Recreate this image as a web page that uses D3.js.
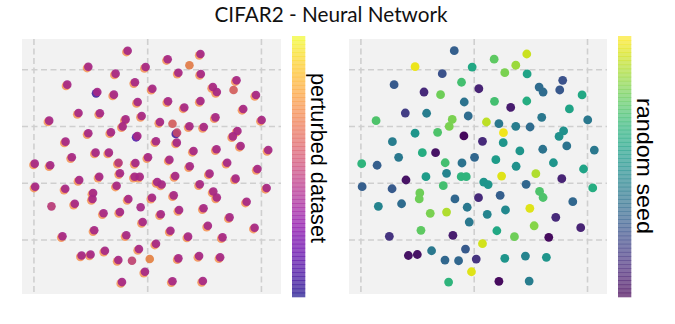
<!DOCTYPE html>
<html><head><meta charset="utf-8">
<script src="https://cdn.jsdelivr.net/npm/d3@7"></script>
<style>body{margin:0;background:#fff;}</style>
</head><body>
<svg id="chart" width="675" height="324"></svg>
<script>
// embedding coordinates (same embedding in both panels)
const ptX = [-17.6,17.6,-52.2,-1.8,-28.2,27.0,-70.7,-11.2,-44.3,4.1,
-29.7,17.9,-8.8,32.2,-60.8,-42.0,-86.6,-5.3,-19.4,-22.0,
10.8,21.8,25.8,-52.2,-32.3,-9.1,-72.2,7.3,25.6,-66.7,
-45.8,-34.1,-99.3,-85.7,-25.6,-10.8,0.3,19.1,46.4,36.7,
46.7,78.1,57.3,60.8,75.5,95.2,46.4,84.0,59.6,100.2,
36.7,49.3,78.9,74.9,81.7,40.3,60.5,106.0,37.0,69.9,
96.5,-60.2,-42.6,-24.4,-11.5,-7.0,24.2,-98.9,-72.5,-27.3,
8.4,12.3,-48.0,-48.5,-17.0,3.8,22.9,-84.6,-64.1,-6.2,
11.5,27.6,-38.8,-24.4,-4.4,-47.0,20.0,-74.9,-18.8,7.3,
-58.1,-50.2,-37.6,-7.7,-25.8,-13.8,1.8,27.0,-2.4,-22.6,
21.8,54.4,77.3,45.8,104.6,57.7,60.8,87.0,49.1,72.0,
35.5,52.9,94.0,65.8,45.2,63.7,48.5];
const ptY = [116.8,109.3,102.7,102.4,96.6,97.4,86.9,89.0,80.4,83.3,
78.1,72.2,71.6,66.8,61.9,61.7,55.2,59.3,56.3,50.1,
54.0,52.5,44.6,44.1,44.9,41.7,36.7,37.0,35.8,22.9,
27.0,27.0,17.3,15.9,18.1,17.9,22.9,20.8,113.9,104.0,
96.3,90.7,84.8,80.4,82.2,77.8,72.5,65.5,58.1,55.8,
50.2,49.6,46.1,41.3,32.9,28.5,30.0,29.3,15.0,18.1,
12.6,2.9,5.8,8.8,5.8,5.8,6.4,-3.0,-4.8,-2.1,
1.1,-1.1,-8.5,-13.8,-13.8,-12.7,-10.6,-20.3,-18.0,-21.1,
-27.3,-23.5,-26.4,-25.3,-34.1,-41.4,-41.8,-46.7,-45.8,-53.2,
-63.6,-62.7,-59.4,-57.9,-67.6,-68.2,-66.7,-66.1,-77.9,-87.0,
-86.3,8.5,4.1,-0.9,-4.1,-7.2,-12.5,-16.2,-22.0,-30.0,
-47.0,-37.4,-39.1,-47.6,-64.1,-65.2,-86.1];
// random seed (normalised 0..1)
const seedVal = [.30,.75,.97,.60,.25,.80,.28,.70,.12,.10,
.78,.70,.38,.08,.18,.42,.72,.35,.80,.80,
.90,.40,.98,.52,.72,.02,.42,.12,.52,.40,
.62,.05,.65,.30,.70,.38,.33,.55,.92,.85,
.58,.25,.35,.35,.27,.60,.62,.58,.40,.40,
.42,.35,.50,.50,.38,.52,.38,.40,.50,.52,
.58,.05,.55,.45,.65,.65,.95,.30,.28,.70,
.52,.52,.78,.78,.33,.12,.30,.45,.35,.40,
.45,.47,.80,.88,.40,.75,.60,.15,.08,.93,
.05,.05,.40,.28,.33,.33,.15,.52,.95,.65,
.03,.88,.10,.33,.62,.72,.72,.33,.95,.12,
.78,.82,.10,.03,.45,.52,.42];
// perturbed dataset (normalised 0..1): lower layer and upper layer per point (null = none)
const pertLow = [.72,.72,.72,.72,.72,.72,.72,.72,.05,.72,
.72,.72,.72,.72,.72,.72,.72,.72,.72,.72,
.72,null,.05,.72,.72,.10,.72,.72,.72,.72,
.72,.72,.72,.72,.72,.72,.72,.72,.72,null,
.72,.72,.72,.72,null,.72,.72,.72,.72,.72,
.72,.72,.72,.72,.72,.72,.72,.72,.72,.72,
.72,.72,.72,.72,.72,.72,.72,.72,.72,.72,
.72,.72,.72,.72,.72,.72,.72,null,.72,null,
.72,.72,.72,.72,.72,.72,.72,.72,.72,.72,
.72,.72,.72,.72,.72,null,null,.72,.72,.72,
.72,.72,.72,.72,.72,.72,.72,.72,.72,.72,
.72,.72,.72,.72,.72,.72,.72];
const pertHigh = [.40,.40,.40,.40,.40,.40,.40,.40,.40,.40,
.40,.40,.40,.40,.40,.40,.40,.40,.40,.40,
.40,.60,.52,.40,.40,.40,.40,.40,.40,.40,
.40,.40,.40,.40,.46,.40,.40,.40,.40,.70,
.40,.40,.40,.40,.60,.40,.40,.40,.40,.40,
.40,.40,.40,.40,.40,.40,.40,.40,.40,.40,
.40,.40,.40,.40,.40,.40,.40,.40,.40,.40,
.40,.40,.40,.40,.40,.40,.40,.47,.40,.40,
.40,.40,.40,.40,.40,.40,.40,.40,.40,.40,
.40,.40,.40,.40,.40,.50,.72,.40,.40,.40,
.40,.40,.40,.40,.40,.40,.40,.40,.40,.40,
.40,.40,.40,.40,.40,.40,.40];
const xTicks = [-100, 0, 100];
const yTicks = [-50, 0, 50, 100];
const xDomain = [-110.5, 117.2];
const yDomain = [-97.5, 127.1];
const titleText = "CIFAR2 - Neural Network";
const labels = ["perturbed dataset", "random seed"];

const svg = d3.select("#chart");
svg.append("rect").attr("width",675).attr("height",324).attr("fill","#fff");

svg.append("text").attr("x",331).attr("y",22).attr("text-anchor","middle")
  .attr("font-family","Lato, 'Open Sans', sans-serif").attr("font-size",22)
  .attr("textLength",233).attr("lengthAdjust","spacingAndGlyphs")
  .attr("fill","#111").text(titleText);

const panels = [
  {x0:22, x1:281, cbX:292, labX:310.5, labY:158, labLen:170, interp:d3.interpolatePlasma, label:labels[0], left:true},
  {x0:349, x1:607, cbX:618, labX:636.5, labY:166, labLen:136, interp:d3.interpolateViridis, label:labels[1], left:false}
];
const y0 = 39, y1 = 294;
const pts = ptX.map((x,i)=>({x, y:ptY[i], s:seedVal[i], lo:pertLow[i], hi:pertHigh[i]}));

panels.forEach(p=>{
  const xs = d3.scaleLinear().domain(xDomain).range([p.x0,p.x1]);
  const ys = d3.scaleLinear().domain(yDomain).range([y1,y0]);
  const g = svg.append("g");
  g.append("rect").attr("x",p.x0).attr("y",y0).attr("width",p.x1-p.x0).attr("height",y1-y0).attr("fill","#f2f2f2");
  g.selectAll(".vx").data(xTicks).join("line")
    .attr("x1",d=>xs(d)).attr("x2",d=>xs(d)).attr("y1",y0).attr("y2",y1)
    .attr("stroke","#cfcfcf").attr("stroke-width",1.6).attr("stroke-dasharray","6,3.5");
  g.selectAll(".hy").data(yTicks).join("line")
    .attr("y1",d=>ys(d)).attr("y2",d=>ys(d)).attr("x1",p.x0).attr("x2",p.x1)
    .attr("stroke","#cfcfcf").attr("stroke-width",1.6).attr("stroke-dasharray","6,3.5");
  if (p.left) {
    g.selectAll(".lo").data(pts.filter(d=>d.lo!==null)).join("circle")
      .attr("cx",d=>xs(d.x)-1.2).attr("cy",d=>ys(d.y)+1.3).attr("r",4.4)
      .attr("fill",d=>p.interp(d.lo)).attr("fill-opacity",0.8);
    g.selectAll(".hi").data(pts.filter(d=>d.hi!==null)).join("circle")
      .attr("cx",d=>xs(d.x)).attr("cy",d=>ys(d.y)).attr("r",4.3)
      .attr("fill",d=>d3.color(p.interp(d.hi)).darker(0.2)).attr("fill-opacity",0.92);
  } else {
    g.selectAll(".pt").data(pts).join("circle")
      .attr("cx",d=>xs(d.x)).attr("cy",d=>ys(d.y)).attr("r",4.4)
      .attr("fill",d=>p.interp(d.s));
  }
  // colorbar
  const cbTop = 36, cbBot = 296.7, n = 64;
  const cs = d3.scaleLinear().domain([0,1]).range([cbBot,cbTop]);
  const steps = d3.range(n);
  g.selectAll(".cb").data(steps).join("rect")
    .attr("x",p.cbX).attr("width",13.3)
    .attr("y",d=>cs((d+1)/n)).attr("height",(cbBot-cbTop)/n+0.6)
    .attr("fill",d=>p.interp((d+0.5)/n)).attr("fill-opacity",0.68);
  g.append("text").attr("transform",`translate(${p.labX},${p.labY}) rotate(90)`)
    .attr("text-anchor","middle").attr("font-family","'Liberation Sans', Arial, sans-serif")
    .attr("font-size",22).attr("textLength",p.labLen).attr("lengthAdjust","spacingAndGlyphs")
    .attr("fill","#000").text(p.label);
});
</script>
</body></html>
